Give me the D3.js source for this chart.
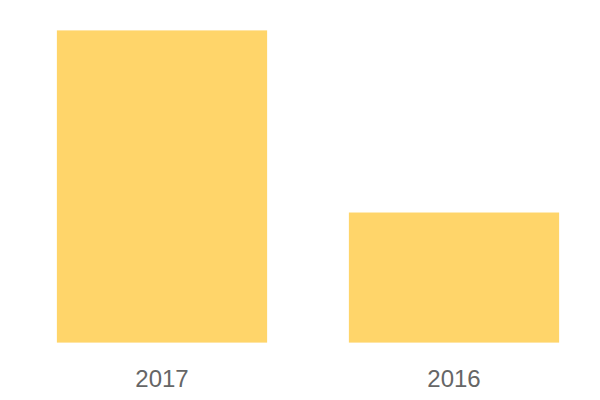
<!DOCTYPE html>
<html><head><meta charset="utf-8">
<script src="https://cdn.jsdelivr.net/npm/d3@7"></script>
<style>body{margin:0;background:#fff}</style>
</head><body>
<svg id="c" width="600" height="400"></svg>
<script>
const categories = ["2017", "2016"];
const values = [24, 10];

const svg = d3.select("#c");
const x = d3.scaleBand().domain(categories).range([16, 600]).paddingInner(0.28).paddingOuter(0.14);
const y = d3.scaleLinear().domain([0, 24]).range([342.6, 30.4]);

svg.selectAll("rect").data(categories).enter().append("rect")
  .attr("x", d => x(d)).attr("width", x.bandwidth())
  .attr("y", (d, i) => y(values[i])).attr("height", (d, i) => y(0) - y(values[i]))
  .attr("fill", "#FFD56A");

const ax = svg.append("g").attr("transform", "translate(0,343)")
  .call(d3.axisBottom(x).tickSize(0).tickPadding(27));
ax.select(".domain").remove();
ax.selectAll("text").attr("fill", "#666").style("font-family", "'Liberation Sans', Arial, sans-serif").style("font-size", "24px");
</script>
</body></html>
